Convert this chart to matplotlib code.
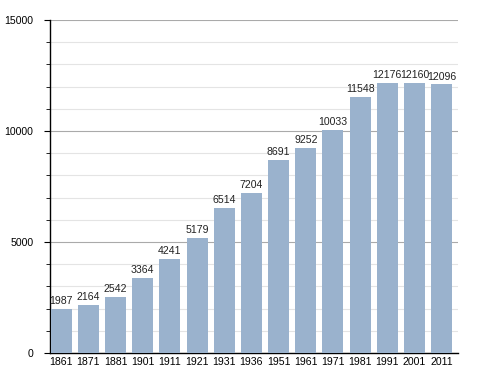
import matplotlib.pyplot as plt
from matplotlib.ticker import MultipleLocator

plt.rcParams["font.family"] = ["Liberation Sans", "DejaVu Sans"]

years = ["1861", "1871", "1881", "1901", "1911", "1921", "1931", "1936",
         "1951", "1961", "1971", "1981", "1991", "2001", "2011"]
population = [1987, 2164, 2542, 3364, 4241, 5179, 6514, 7204,
              8691, 9252, 10033, 11548, 12176, 12160, 12096]

fig = plt.figure(figsize=(4.88, 3.73), dpi=100)
ax = fig.add_axes([0.1025, 0.0536, 0.836, 0.893])

x = list(range(len(years)))
ax.bar(x, population, width=0.77, color="#9ab2cd", zorder=3)

for xi, v in zip(x, population):
    ax.text(xi, v + 130, str(v), ha="center", va="bottom", fontsize=7.6,
            color="#222222", zorder=4)

ax.set_xlim(-0.41, 14.6)
ax.set_ylim(0, 15000)
ax.set_xticks(x)
ax.set_xticklabels(years, fontsize=7.6)
ax.yaxis.set_major_locator(MultipleLocator(5000))
ax.yaxis.set_minor_locator(MultipleLocator(1000))
ax.tick_params(axis="y", which="major", labelsize=7.6, length=4, pad=8)
ax.tick_params(axis="y", which="minor", length=3)
ax.tick_params(axis="x", length=0, pad=3)

ax.grid(axis="y", which="major", color="#aaaaaa", linewidth=0.8, zorder=0)
ax.grid(axis="y", which="minor", color="#e4e4e4", linewidth=0.8, zorder=0)

for s in ["top", "right"]:
    ax.spines[s].set_visible(False)
ax.spines["left"].set_linewidth(1.0)
ax.spines["bottom"].set_linewidth(1.0)

fig.savefig("out.png", dpi=100)
